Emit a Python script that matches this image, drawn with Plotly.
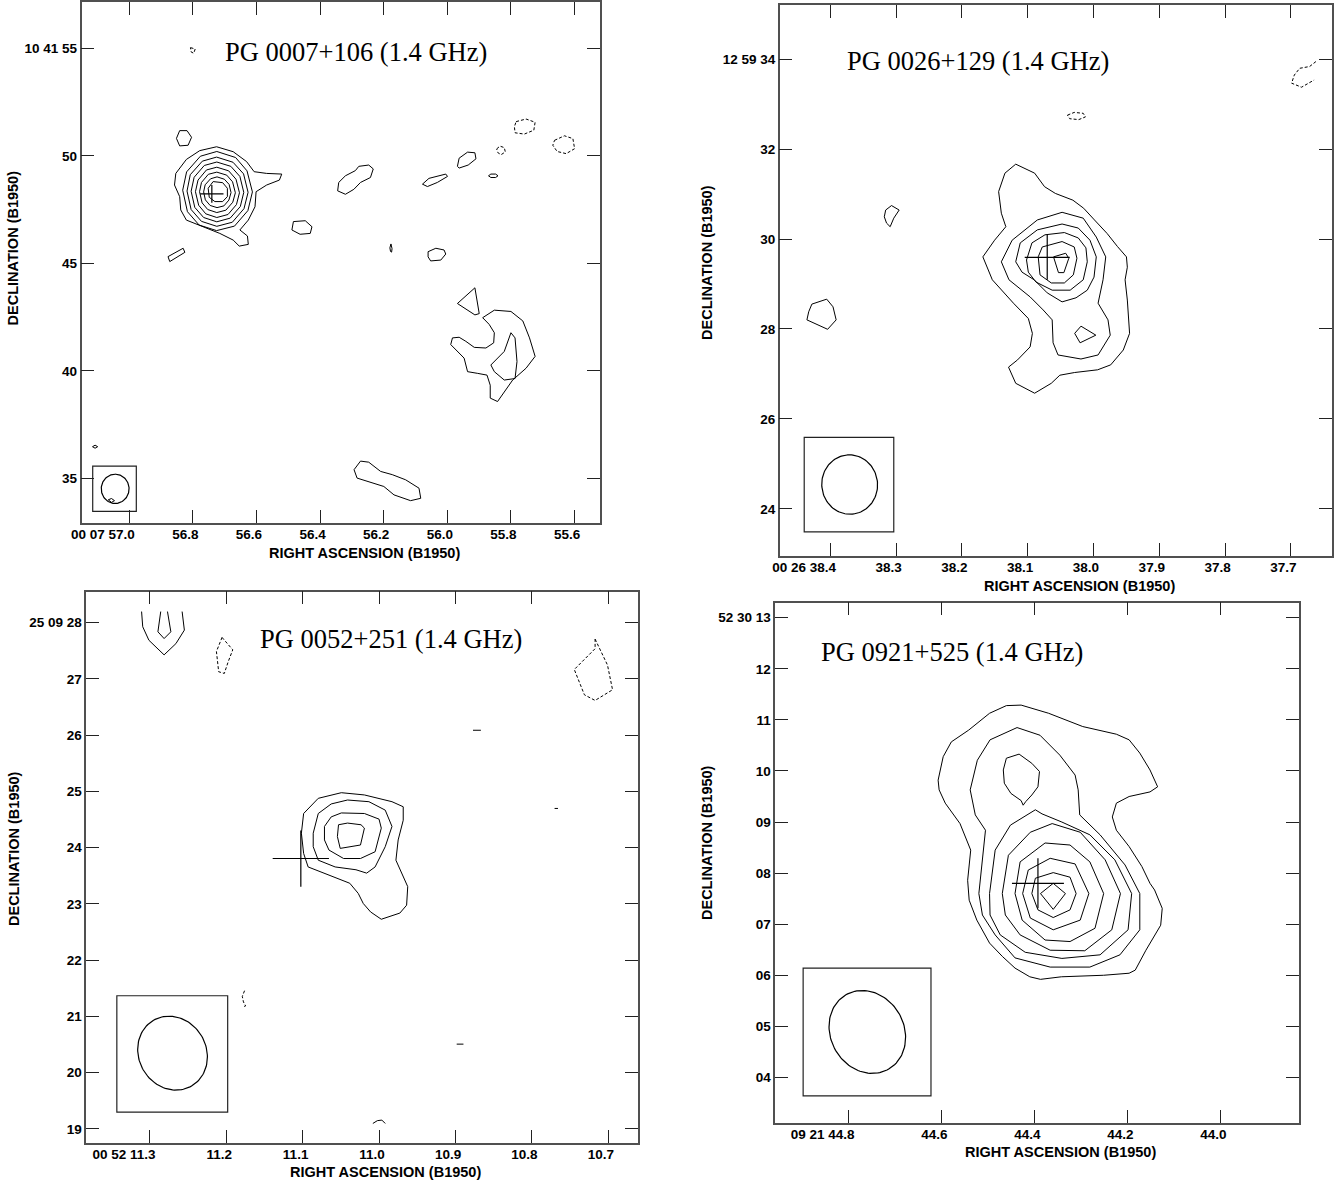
import math
import plotly.graph_objects as go

# Offsets are arcsec from each map's reference position: dx = east (+, to the left), dy = north (+)

# ---------- Panel 1 : PG 0007+106 ----------
P1_TITLE = "PG 0007+106 (1.4 GHz)"
P1_RA_HM = "00 07"
P1_DEC_DM = "10 41"
P1_DEC_DEG = 10 + 41 / 60
P1_REF_RA = 56.7233   # RA seconds
P1_REF_DEC = 48.30    # Dec arcsec
P1_RA_TICKS = [57.0, 56.8, 56.6, 56.4, 56.2, 56.0, 55.8, 55.6]
P1_DEC_TICKS = [55, 50, 45, 40, 35]
P1_SOLID = [
    [[0.03, -0.74, -1.36, -1.71, -2.29, -2.99, -2.88, -2.29, -1.80, -1.75, -1.44, -1.05, -1.40, -1.44, -1.02, -0.74, -0.12, 0.65, 1.43, 1.69, 1.74, 1.98, 1.92, 1.43, 0.81],
     [2.12, 1.89, 1.43, 0.96, 0.88, 0.85, 0.57, 0.34, 0.03, -0.67, -1.29, -1.75, -2.03, -2.42, -2.50, -2.22, -1.91, -1.60, -1.29, -0.82, -0.20, 0.34, 0.88, 1.53, 1.94]],
    [[1.60, 1.42, 0.78, 0.02, -0.85, -1.38, -1.63, -1.42, -0.80, 0.03, 0.84, 1.38],
     [0.10, 0.95, 1.68, 1.90, 1.62, 1.00, 0.02, -0.85, -1.57, -1.78, -1.52, -0.90]],
    [[1.40, 1.25, 0.69, 0.03, -0.73, -1.22, -1.43, -1.24, -0.70, 0.02, 0.73, 1.21],
     [0.06, 0.82, 1.45, 1.64, 1.40, 0.86, 0.00, -0.76, -1.39, -1.58, -1.35, -0.80]],
    [[1.21, 1.07, 0.60, 0.02, -0.63, -1.05, -1.23, -1.07, -0.60, 0.02, 0.63, 1.04],
     [0.05, 0.70, 1.25, 1.41, 1.21, 0.74, 0.00, -0.66, -1.20, -1.37, -1.17, -0.70]],
    [[1.01, 0.89, 0.50, 0.02, -0.53, -0.87, -1.03, -0.89, -0.50, 0.02, 0.53, 0.86],
     [0.03, 0.57, 1.04, 1.17, 1.00, 0.61, -0.02, -0.57, -1.03, -1.17, -1.00, -0.60]],
    [[0.82, 0.73, 0.41, 0.02, -0.44, -0.71, -0.84, -0.72, -0.40, 0.02, 0.44, 0.70],
     [0.03, 0.46, 0.84, 0.94, 0.80, 0.49, -0.02, -0.46, -0.83, -0.94, -0.80, -0.49]],
    [[0.63, 0.56, 0.31, 0.01, -0.33, -0.55, -0.64, -0.54, -0.31, 0.01, 0.33, 0.55],
     [0.02, 0.35, 0.63, 0.72, 0.61, 0.37, -0.01, -0.36, -0.63, -0.71, -0.61, -0.35]],
    [[0.19, -0.25, -0.47, -0.47, -0.25, 0.11, 0.37, 0.42],
     [0.50, 0.45, 0.19, -0.20, -0.43, -0.43, -0.23, 0.19]],
    [[1.74, 1.40, 1.19, 1.35, 1.74, 1.89], [2.87, 2.87, 2.56, 2.19, 2.16, 2.51]],
    [[2.28, 1.81, 1.58, 1.50, 1.86, 2.20], [-2.99, -2.71, -2.60, -2.79, -3.02, -3.22]],
    [[-3.53, -4.08, -4.39, -4.31, -3.84, -3.46], [-1.36, -1.32, -1.60, -1.91, -1.95, -1.75]],
    [[-5.63, -5.94, -6.40, -6.56, -7.02, -7.23, -7.10, -6.64, -6.33, -5.94, -5.58],
     [0.46, 0.77, 1.01, 1.21, 1.27, 1.09, 0.69, 0.46, 0.14, -0.09, 0.07]],
    [[-9.51, -9.81, -10.59, -10.67, -10.20, -9.74], [0.38, 0.65, 0.85, 0.74, 0.46, 0.27]],
    [[-11.13, -11.21, -11.60, -11.94, -11.99, -11.63, -11.21], [1.21, 1.59, 1.87, 1.84, 1.56, 1.27, 1.13]],
    [[-12.57, -12.68, -12.90, -13.01, -12.90, -12.68], [0.77, 0.85, 0.85, 0.77, 0.69, 0.69]],
    [[-8.05, -8.00, -8.03, -8.08, -8.10, -8.07], [-2.40, -2.58, -2.75, -2.78, -2.62, -2.45]],
    [[-9.77, -10.13, -10.51, -10.59, -10.36, -9.89, -9.77], [-2.76, -2.60, -2.68, -2.87, -3.15, -3.19, -3.00]],
    [[-11.13, -11.94, -12.14, -11.94], [-5.17, -4.44, -5.64, -5.70]],
    [[-12.30, -12.84, -13.61, -14.16, -14.47, -14.73, -14.31, -13.69, -12.99, -12.65, -12.65, -12.50, -12.07, -11.60, -11.44, -11.10, -10.82, -10.90, -11.21, -11.52, -11.91, -12.45, -12.81, -12.84, -12.60],
     [-5.83, -5.48, -5.54, -5.98, -6.77, -7.63, -8.18, -8.73, -9.73, -9.57, -8.97, -8.50, -8.42, -8.34, -7.71, -7.37, -7.08, -6.77, -6.74, -6.93, -7.21, -7.24, -7.00, -6.53, -6.14]],
    [[-12.68, -13.30, -13.61, -13.80, -13.89, -13.80, -13.30, -12.84], [-8.03, -7.40, -6.53, -6.77, -7.87, -8.66, -8.73, -8.34]],
    [[-6.34, -6.64, -7.02, -7.57, -8.11, -8.73, -9.35, -9.43, -8.96, -8.19, -7.72, -7.02, -6.48],
     [-12.90, -12.50, -12.55, -12.98, -13.13, -13.37, -13.76, -14.23, -14.34, -14.07, -13.68, -13.45, -13.29]],
    [[5.78, 5.66, 5.54, 5.66], [-11.83, -11.76, -11.83, -11.90]],
    [[5.05, 4.90, 4.76, 4.90], [-14.30, -14.24, -14.34, -14.42]],
]
P1_DASHED = [
    [[1.24, 1.02, 1.09, 1.21], [6.73, 6.67, 6.47, 6.53]],
    [[-12.95, -13.10, -13.30, -13.35, -13.15, -13.00], [2.02, 2.15, 2.08, 1.88, 1.75, 1.85]],
    [[-13.85, -14.31, -14.73, -14.67, -14.23, -13.80, -13.77], [3.29, 3.41, 3.26, 2.89, 2.71, 2.77, 3.05]],
    [[-15.63, -16.09, -16.48, -16.56, -16.17, -15.75, -15.55], [2.42, 2.63, 2.50, 2.03, 1.80, 1.90, 2.19]],
]
P1_OPEN_SOLID = []
P1_OPEN_DASHED = []
P1_CROSS = [0.25, -0.07, 0.54, 0.41]          # dx, dy, half-width, half-height (arcsec)
P1_BEAM = [4.73, -13.79, 1.36, 1.29, 0.0]      # dx, dy, bmaj, bmin (arcsec FWHM), PA (deg)

# ---------- Panel 2 : PG 0026+129 ----------
P2_TITLE = "PG 0026+129 (1.4 GHz)"
P2_RA_HM = "00 26"
P2_DEC_DM = "12 59"
P2_DEC_DEG = 12 + 59 / 60
P2_REF_RA = 38.0703
P2_REF_DEC = 29.593
P2_RA_TICKS = [38.4, 38.3, 38.2, 38.1, 38.0, 37.9, 37.8, 37.7]
P2_DEC_TICKS = [34, 32, 30, 28, 26, 24]
P2_SOLID = [
    [[0.70, 0.28, 0.06, -0.18, -0.57, -0.81, -1.05, -1.33, -1.56, -1.76, -1.78, -1.73, -1.78, -1.83, -1.69, -1.41, -1.12, -0.61, -0.28, -0.09, 0.28, 0.70, 0.86, 0.66, 0.38, 0.33, 0.42, 0.75, 1.22, 1.43, 1.17, 0.92, 1.02, 1.08, 0.94],
     [2.07, 1.87, 1.57, 1.42, 1.27, 1.09, 0.83, 0.53, 0.24, 0.01, -0.22, -0.50, -0.95, -1.69, -2.06, -2.39, -2.50, -2.56, -2.62, -2.80, -3.02, -2.80, -2.44, -2.28, -1.99, -1.69, -1.36, -1.02, -0.50, 0.01, 0.38, 0.68, 0.98, 1.46, 1.87]],
    [[1.02, 0.78, 0.22, -0.33, -0.80, -1.09, -1.30, -1.24, -1.13, -1.35, -1.40, -1.13, -0.75, -0.24, -0.13, -0.11, 0.09, 0.38, 0.85],
     [-0.10, 0.38, 0.83, 1.00, 0.87, 0.45, 0.01, -0.50, -1.02, -1.39, -1.73, -2.17, -2.26, -2.17, -1.90, -1.39, -1.17, -0.88, -0.50]],
    [[0.70, 0.60, 0.22, -0.33, -0.69, -0.95, -1.09, -1.04, -0.89, -0.64, -0.33, 0.00, 0.29, 0.56],
     [-0.10, 0.32, 0.61, 0.74, 0.65, 0.38, 0.01, -0.44, -0.73, -0.90, -0.99, -0.79, -0.50, -0.33]],
    [[0.46, 0.34, 0.05, -0.38, -0.69, -0.86, -0.89, -0.80, -0.51, -0.11, 0.25, 0.42],
     [-0.06, 0.32, 0.50, 0.55, 0.43, 0.21, -0.10, -0.50, -0.73, -0.73, -0.55, -0.33]],
    [[0.20, 0.11, -0.33, -0.60, -0.66, -0.58, -0.38, -0.09, 0.16],
     [0.01, 0.23, 0.35, 0.23, -0.02, -0.39, -0.57, -0.57, -0.39]],
    [[-0.14, -0.41, -0.48, -0.37, -0.25, -0.18], [0.01, 0.09, -0.02, -0.34, -0.34, -0.13]],
    [[-0.61, -0.75, -1.08, -0.73], [-1.69, -1.53, -1.73, -1.90]],
    [[3.59, 3.46, 3.29, 3.41, 3.49, 3.57, 3.62], [1.05, 1.15, 1.05, 0.87, 0.68, 0.76, 0.90]],
    [[5.23, 4.90, 4.76, 4.69, 4.88, 5.34, 5.30], [-1.04, -0.93, -1.10, -1.39, -1.60, -1.39, -1.21]],
]
P2_DASHED = [
    [[-0.45, -0.60, -0.80, -0.85, -0.70, -0.50], [3.16, 3.22, 3.20, 3.12, 3.06, 3.08]],
]
P2_OPEN_SOLID = []
P2_OPEN_DASHED = [
    [[-5.97, -5.83, -5.61, -5.49, -5.43, -5.65, -5.93], [4.35, 4.24, 4.20, 4.05, 3.87, 3.78, 3.94]],
]
P2_CROSS = [0.0, 0.0, 0.50, 0.50]
P2_BEAM = [4.39, -5.05, 1.32, 1.24, 5.0]

# ---------- Panel 3 : PG 0052+251 ----------
P3_TITLE = "PG 0052+251 (1.4 GHz)"
P3_RA_HM = "00 52"
P3_DEC_DM = "25 09"
P3_DEC_DEG = 25 + 9 / 60
P3_REF_RA = 11.1025
P3_REF_DEC = 23.808
P3_RA_TICKS = [11.3, 11.2, 11.1, 11.0, 10.9, 10.8, 10.7]
P3_DEC_TICKS = [28, 27, 26, 25, 24, 23, 22, 21, 20, 19]
P3_SOLID = [
    [[-0.05, -0.31, -0.72, -1.13, -1.62, -1.82, -1.82, -1.73, -1.69, -1.79, -1.90, -1.88, -1.76, -1.43, -1.24, -1.11, -1.02, -0.87, -0.27, -0.13, -0.05, -0.01],
     [0.80, 1.07, 1.17, 1.13, 1.01, 0.92, 0.68, 0.33, -0.03, -0.26, -0.50, -0.83, -0.97, -1.08, -0.95, -0.80, -0.62, -0.44, -0.20, -0.15, 0.09, 0.45]],
    [[-0.22, -0.31, -0.54, -0.83, -1.21, -1.50, -1.62, -1.50, -1.32, -1.17, -0.98, -0.61, -0.31, -0.22],
     [0.45, 0.80, 0.97, 1.04, 1.01, 0.86, 0.57, 0.21, -0.15, -0.26, -0.20, -0.15, -0.03, 0.21]],
    [[-0.42, -0.54, -0.72, -1.13, -1.39, -1.43, -1.32, -1.06, -0.76, -0.50, -0.42],
     [0.57, 0.74, 0.81, 0.80, 0.70, 0.54, 0.12, 0.00, 0.00, 0.15, 0.33]],
    [[-0.67, -0.83, -1.07, -1.13, -1.06, -0.89, -0.70, -0.65],
     [0.60, 0.63, 0.60, 0.54, 0.24, 0.21, 0.18, 0.39]],
]
P3_DASHED = [
    [[1.40, 1.21, 1.29, 1.36, 1.46, 1.50], [3.93, 3.71, 3.50, 3.29, 3.32, 3.68]],
    [[-5.23, -5.45, -5.54, -5.23, -5.04, -4.86, -5.23], [3.90, 3.44, 3.00, 2.81, 2.91, 3.36, 3.73]],
]
P3_OPEN_SOLID = [
    [[2.83, 2.81, 2.70, 2.43, 2.22, 2.07, 2.11], [4.39, 4.12, 3.88, 3.62, 3.82, 4.06, 4.39]],
    [[2.49, 2.54, 2.43, 2.31, 2.37], [4.39, 4.03, 3.91, 4.03, 4.39]],
    [[-3.06, -3.20], [2.28, 2.28]],
    [[-4.51, -4.57], [0.89, 0.89]],
    [[-2.77, -2.89], [-3.30, -3.30]],
    [[-1.28, -1.36, -1.44, -1.50], [-4.71, -4.66, -4.65, -4.71]],
]
P3_OPEN_DASHED = [
    [[1.00, 1.04, 1.02, 0.98, 1.01], [-2.35, -2.45, -2.55, -2.62, -2.63]],
]
P3_CROSS = [0.0, 0.0, 0.50, 0.50]
P3_BEAM = [2.28, -3.46, 1.35, 1.20, 30.0]

# ---------- Panel 4 : PG 0921+525 ----------
P4_TITLE = "PG 0921+525 (1.4 GHz)"
P4_RA_HM = "09 21"
P4_DEC_DM = "52 30"
P4_DEC_DEG = 52 + 30 / 60
P4_REF_RA = 44.3933
P4_REF_DEC = 7.799
P4_RA_TICKS = [44.8, 44.6, 44.4, 44.2, 44.0]
P4_DEC_TICKS = [13, 12, 11, 10, 9, 8, 7, 6, 5, 4]
P4_SOLID = [
    [[0.62, 0.33, -0.21, -0.88, -1.54, -1.79, -2.00, -2.20, -2.35, -2.20, -1.79, -1.54, -1.46, -1.54, -1.79, -2.04, -2.20, -2.29, -2.44, -2.41, -2.12, -1.91, -1.79, -1.29, -0.46, -0.05, 0.16, 0.45, 0.70, 0.95, 1.20, 1.35, 1.38, 1.32, 1.53, 1.82, 1.94, 1.96, 1.86, 1.70, 1.36, 0.95],
     [3.48, 3.49, 3.33, 3.07, 2.92, 2.81, 2.55, 2.22, 1.89, 1.79, 1.70, 1.57, 1.30, 1.04, 0.72, 0.33, 0.00, -0.13, -0.49, -0.82, -1.31, -1.70, -1.76, -1.80, -1.83, -1.88, -1.83, -1.66, -1.43, -1.17, -0.72, -0.33, 0.06, 0.65, 1.17, 1.57, 1.83, 2.02, 2.48, 2.77, 3.00, 3.33]],
    [[1.16, 1.03, 1.23, 1.33, 1.19, 0.94, 0.41, -0.04, -0.43, -0.73, -0.79, -0.82, -1.22, -1.71, -2.00, -2.00, -1.61, -1.02, -0.24, 0.45, 0.84, 1.09],
     [-0.20, 1.04, 1.34, 1.83, 2.41, 2.81, 3.05, 2.90, 2.51, 2.12, 1.83, 1.34, 0.95, 0.36, -0.20, -0.91, -1.40, -1.64, -1.64, -1.46, -1.01, -0.62]],
    [[0.62, 0.37, 0.12, -0.03, 0.00, 0.12, 0.24, 0.29, 0.33, 0.53, 0.66, 0.68],
     [2.45, 2.53, 2.35, 2.19, 1.89, 1.73, 1.60, 1.53, 1.62, 1.76, 1.96, 2.22]],
    [[0.95, 0.84, 0.54, 0.15, 0.05, -0.08, -0.47, -1.02, -1.51, -1.84, -1.77, -1.22, -0.47, 0.25, 0.74, 0.94],
     [-0.20, 0.65, 1.14, 1.38, 1.44, 1.36, 1.20, 0.95, 0.46, -0.20, -0.91, -1.40, -1.47, -1.35, -1.01, -0.62]],
    [[0.70, 0.58, 0.15, -0.28, -0.83, -1.32, -1.62, -1.45, -0.92, -0.24, 0.35, 0.64],
     [-0.20, 0.55, 1.00, 1.17, 1.00, 0.46, -0.20, -0.91, -1.32, -1.31, -1.01, -0.62]],
    [[0.45, 0.35, -0.14, -0.63, -1.02, -1.29, -1.12, -0.63, -0.14, 0.31],
     [-0.20, 0.42, 0.79, 0.75, 0.42, -0.20, -0.88, -1.14, -1.11, -0.72]],
    [[0.30, 0.19, -0.24, -0.73, -1.00, -0.83, -0.30, 0.15],
     [-0.20, 0.26, 0.49, 0.38, -0.20, -0.72, -0.91, -0.68]],
    [[0.12, 0.05, -0.30, -0.63, -0.75, -0.63, -0.30, 0.00],
     [-0.20, 0.10, 0.21, 0.12, -0.20, -0.52, -0.67, -0.52]],
    [[-0.05, -0.30, -0.54, -0.30], [-0.20, 0.00, -0.20, -0.51]],
]
P4_DASHED = []
P4_OPEN_SOLID = []
P4_OPEN_DASHED = []
P4_CROSS = [0.0, 0.0, 0.51, 0.49]
P4_BEAM = [3.35, -2.91, 1.68, 1.44, 30.0]

# ======================= LAYOUT (pixel geometry of each map frame) =======================
W, H = 1340, 1181
SANS = "Liberation Sans, Arial, Helvetica, sans-serif"
SERIF = "Liberation Serif, Times New Roman, Times, serif"
INK = "#000000"
FRAME = "#505050"

PANELS = [
    dict(title=P1_TITLE, ra_hm=P1_RA_HM, dec_dm=P1_DEC_DM, dec_deg=P1_DEC_DEG, ra0=P1_REF_RA, dec0=P1_REF_DEC,
         ra_ticks=P1_RA_TICKS, dec_ticks=P1_DEC_TICKS, solid=P1_SOLID, dashed=P1_DASHED,
         open_solid=P1_OPEN_SOLID, open_dashed=P1_OPEN_DASHED, cross=P1_CROSS, beam=P1_BEAM,
         frame=(81.5, 2.0, 600.0, 522.7), xr=(57.150, 55.520), yr=(32.935, 57.153),
         box=(5.77, 3.75, -12.73, -14.84), title_px=(222.7, 52.0),
         xt_px=(364.8, 552.5), yt_px=(13.0, 248.4)),
    dict(title=P2_TITLE, ra_hm=P2_RA_HM, dec_dm=P2_DEC_DM, dec_deg=P2_DEC_DEG, ra0=P2_REF_RA, dec0=P2_REF_DEC,
         ra_ticks=P2_RA_TICKS, dec_ticks=P2_DEC_TICKS, solid=P2_SOLID, dashed=P2_DASHED,
         open_solid=P2_OPEN_SOLID, open_dashed=P2_OPEN_DASHED, cross=P2_CROSS, beam=P2_BEAM,
         frame=(779.7, 5.0, 1331.6, 555.7), xr=(38.477, 37.638), yr=(22.962, 35.200),
         box=(5.40, 3.41, -4.00, -6.10), title_px=(845.0, 61.0),
         xt_px=(1079.7, 586.0), yt_px=(707.5, 262.4)),
    dict(title=P3_TITLE, ra_hm=P3_RA_HM, dec_dm=P3_DEC_DM, dec_deg=P3_DEC_DEG, ra0=P3_REF_RA, dec0=P3_REF_DEC,
         ra_ticks=P3_RA_TICKS, dec_ticks=P3_DEC_TICKS, solid=P3_SOLID, dashed=P3_DASHED,
         open_solid=P3_OPEN_SOLID, open_dashed=P3_OPEN_DASHED, cross=P3_CROSS, beam=P3_BEAM,
         frame=(86.3, 591.7, 637.9, 1142.7), xr=(11.3833, 10.6613), yr=(18.756, 28.551),
         box=(3.27, 1.30, -2.44, -4.51), title_px=(257.6, 638.5),
         xt_px=(385.7, 1171.5), yt_px=(14.0, 849.0)),
    dict(title=P4_TITLE, ra_hm=P4_RA_HM, dec_dm=P4_DEC_DM, dec_deg=P4_DEC_DEG, ra0=P4_REF_RA, dec0=P4_REF_DEC,
         ra_ticks=P4_RA_TICKS, dec_ticks=P4_DEC_TICKS, solid=P4_SOLID, dashed=P4_DASHED,
         open_solid=P4_OPEN_SOLID, open_dashed=P4_OPEN_DASHED, cross=P4_CROSS, beam=P4_BEAM,
         frame=(775.3, 602.7, 1299.0, 1122.7), xr=(44.958, 43.832), yr=(3.112, 13.294),
         box=(4.61, 2.10, -1.66, -4.16), title_px=(819.0, 651.7),
         xt_px=(1060.0, 1152.0), yt_px=(707.0, 843.0)),
]


def to_sky(p, dx, dy):
    k = 15.0 * math.cos(math.radians(p["dec_deg"]))
    xs = [None if a is None else p["ra0"] + a / k for a in dx]
    ys = [None if b is None else p["dec0"] + b for b in dy]
    return xs, ys


fig = go.Figure()
annotations = []
shapes = []
layout_axes = {}

for i, p in enumerate(PANELS, start=1):
    xa = "x" if i == 1 else f"x{i}"
    ya = "y" if i == 1 else f"y{i}"

    def add_line(dx, dy, dash=None, close=True, width=1.0):
        if close:
            dx = list(dx) + [dx[0]]
            dy = list(dy) + [dy[0]]
        xs, ys = to_sky(p, dx, dy)
        fig.add_trace(go.Scatter(x=xs, y=ys, mode="lines",
                                 line=dict(color=INK, width=width, dash=dash),
                                 xaxis=xa, yaxis=ya, hoverinfo="skip", showlegend=False))

    for dx, dy in p["solid"]:
        add_line(dx, dy)
    for dx, dy in p["dashed"]:
        add_line(dx, dy, dash="3px,2px")
    for dx, dy in p["open_solid"]:
        add_line(dx, dy, close=False)
    for dx, dy in p["open_dashed"]:
        add_line(dx, dy, dash="3px,2px", close=False)

    # optical position cross
    cx, cy, hx, hy = p["cross"]
    add_line([cx - hx, cx + hx, None, cx, cx], [cy, cy, None, cy - hy, cy + hy], close=False, width=1.2)

    # restoring beam (FWHM ellipse)
    bx, by, bmaj, bmin, bpa = p["beam"]
    pa = math.radians(bpa)
    ex, ey = [], []
    for n in range(121):
        t = 2 * math.pi * n / 120
        u = 0.5 * bmaj * math.cos(t)
        v = 0.5 * bmin * math.sin(t)
        ex.append(bx + u * math.sin(pa) + v * math.cos(pa))
        ey.append(by + u * math.cos(pa) - v * math.sin(pa))
    add_line(ex, ey, close=False, width=1.2)

    # beam box
    b0, b1, b2, b3 = p["box"]
    (bxa, bxb), (bya, byb) = to_sky(p, [b0, b1], [b2, b3])
    shapes.append(dict(type="rect", xref=xa, yref=ya, x0=bxa, x1=bxb, y0=bya, y1=byb,
                       line=dict(color="#222222", width=1.2), fillcolor="rgba(0,0,0,0)", layer="above"))

    L, T, R, B = p["frame"]
    xdom = [L / W, R / W]
    ydom = [1 - B / H, 1 - T / H]
    common = dict(showline=True, linecolor=FRAME, linewidth=1.5, mirror="allticks",
                  ticks="inside", ticklen=13, tickwidth=1.2, tickcolor="#222222",
                  showgrid=False, zeroline=False, fixedrange=True, automargin=False,
                  tickfont=dict(family=SANS, size=13.5, color=INK, weight="bold"))
    xt = [f"{p['ra_hm']} {p['ra_ticks'][0]:.1f}"] + [f"{t:.1f}" for t in p["ra_ticks"][1:]]
    yt = [f"{p['dec_dm']} {p['dec_ticks'][0]:02d}"] + [f"{t:02d}" for t in p["dec_ticks"][1:]]
    layout_axes["xaxis" if i == 1 else f"xaxis{i}"] = dict(
        common, domain=xdom, range=list(p["xr"]), anchor=ya, tickmode="array",
        tickvals=p["ra_ticks"], ticktext=xt, ticklabelposition="outside left",
        ticklabelshift=-7, ticklabelstandoff=-2)
    layout_axes["yaxis" if i == 1 else f"yaxis{i}"] = dict(
        common, domain=ydom, range=list(p["yr"]), anchor=xa, tickmode="array",
        tickvals=p["dec_ticks"], ticktext=yt)

    # map title
    tx, ty = p["title_px"]
    annotations.append(dict(text=p["title"], xref="paper", yref="paper", x=tx / W, y=1 - ty / H,
                            xanchor="left", yanchor="middle", showarrow=False,
                            font=dict(family=SERIF, size=26.5, color=INK)))
    # axis titles
    ax_, ay_ = p["xt_px"]
    annotations.append(dict(text="RIGHT ASCENSION (B1950)", xref="paper", yref="paper",
                            x=ax_ / W, y=1 - ay_ / H, xanchor="center", yanchor="middle",
                            showarrow=False, font=dict(family=SANS, size=14.5, color=INK, weight="bold")))
    dx_, dy_ = p["yt_px"]
    annotations.append(dict(text="DECLINATION (B1950)", xref="paper", yref="paper",
                            x=dx_ / W, y=1 - dy_ / H, xanchor="center", yanchor="middle", textangle=-90,
                            showarrow=False, font=dict(family=SANS, size=14.5, color=INK, weight="bold")))

fig.update_layout(width=W, height=H, autosize=False, margin=dict(l=0, r=0, t=0, b=0),
                  paper_bgcolor="white", plot_bgcolor="white", showlegend=False,
                  annotations=annotations, shapes=shapes, **layout_axes)

fig.write_html("out.html", config={"displayModeBar": False})
